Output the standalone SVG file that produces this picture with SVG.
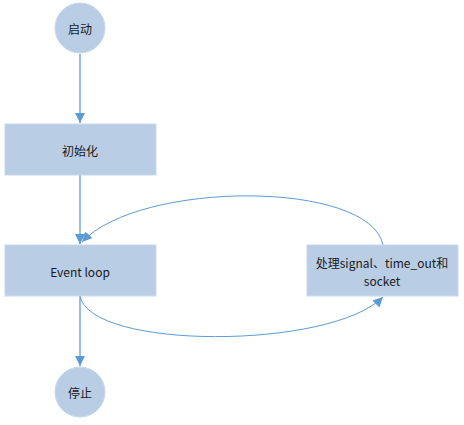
<svg xmlns="http://www.w3.org/2000/svg" width="464" height="425" viewBox="0 0 464 425">
<style>
.n{fill:#B9CDE5;stroke:#C9D8EC;stroke-width:1}
.t{font-family:"Noto Sans CJK SC","Liberation Sans",sans-serif;font-size:12px;fill:#1a1a1a;text-anchor:middle;dominant-baseline:central}
.e{fill:none;stroke:#5B9BD5;stroke-width:1}
.s{stroke-width:1.3}
</style>
<defs>
<marker id="a" viewBox="0 0 10 10" refX="10" refY="5" markerWidth="10" markerHeight="10" markerUnits="userSpaceOnUse" orient="auto">
<path d="M0,0 L10,5 L0,10 z" fill="#5B9BD5"/>
</marker>
</defs>
<rect width="464" height="425" fill="#fff"/>
<g id="edges">
<path class="e s" d="M80,54 V123" marker-end="url(#a)"/>
<path class="e s" d="M80,175 V244" marker-end="url(#a)"/>
<path class="e s" d="M80,296 V366" marker-end="url(#a)"/>
<path class="e" d="M383,245 C370,180 140,180 82,242" marker-end="url(#a)"/>
<path class="e" d="M80,296 C90,350 330,350 383,297" marker-end="url(#a)"/>
</g>
<g id="start"><circle class="n" cx="80" cy="28" r="25"/><text class="t" x="80" y="28">启动</text></g>
<g id="init"><rect class="n" x="5" y="124" width="151" height="51"/><text class="t" x="80" y="150">初始化</text></g>
<g id="loop"><rect class="n" x="5" y="245" width="151" height="51"/><text class="t" x="80" y="271">Event loop</text></g>
<g id="handle"><rect class="n" x="307" y="245" width="151" height="51"/><text class="t" x="382" y="262">处理signal、time_out和</text><text class="t" x="382" y="280">socket</text></g>
<g id="stop"><circle class="n" cx="80" cy="392" r="25"/><text class="t" x="80" y="392">停止</text></g>
</svg>
